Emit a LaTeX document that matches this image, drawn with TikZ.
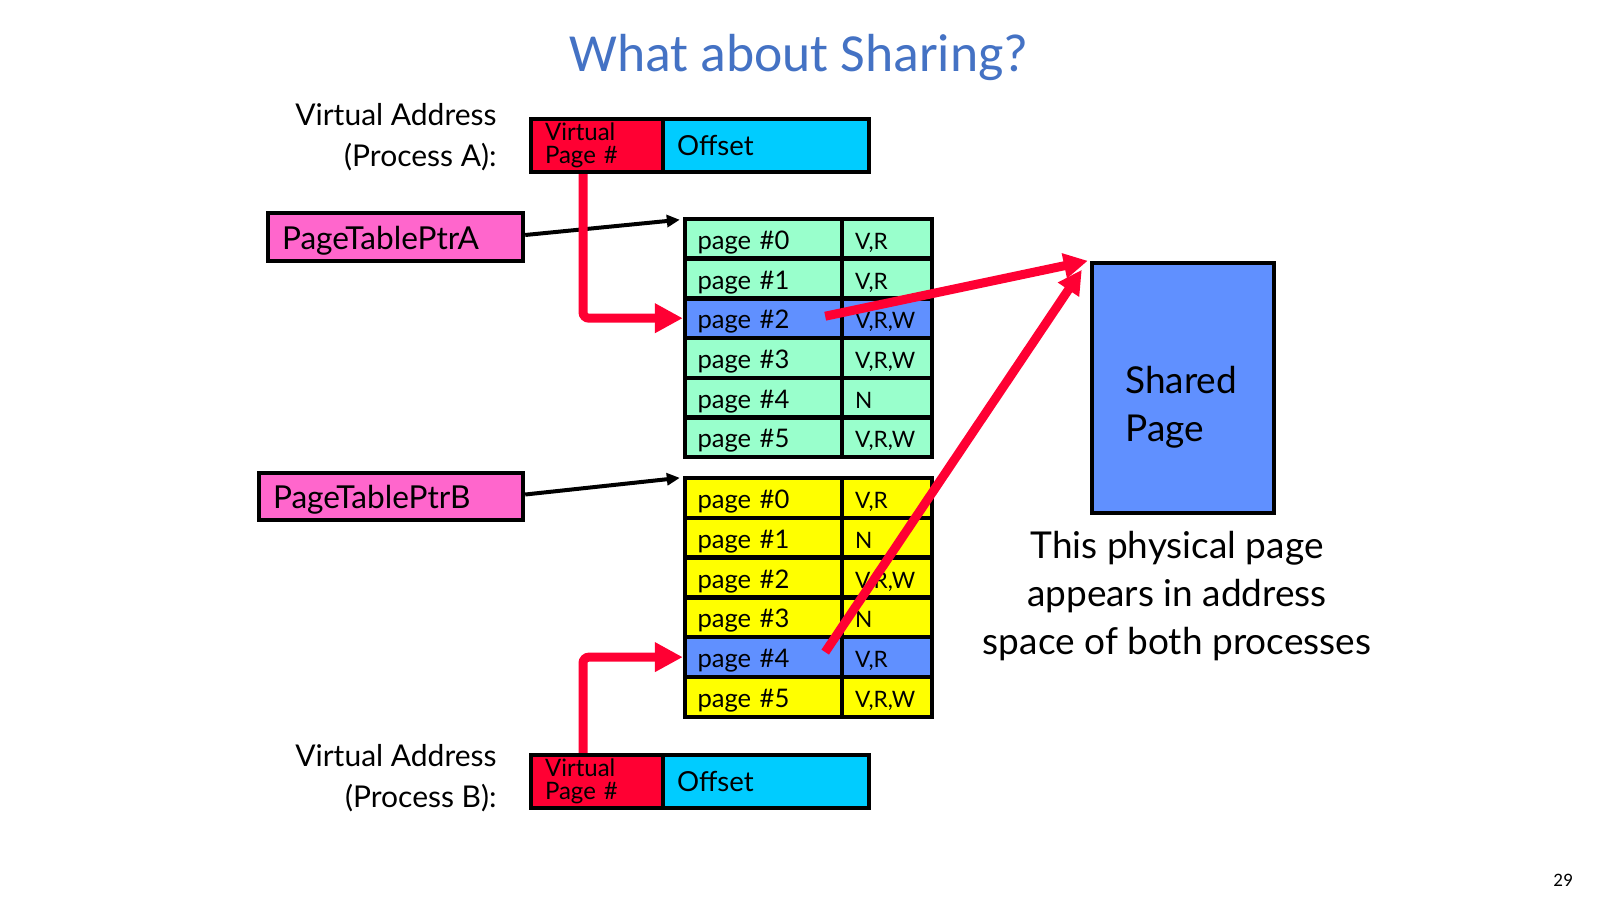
\documentclass[tikz,border=0pt]{standalone}
\usepackage{fontspec}
\setmainfont{Lato}
\newfontfamily\titlefont{Carlito}
\usetikzlibrary{arrows.meta}
\definecolor{vred}{HTML}{FF0033}
\definecolor{vcyan}{HTML}{00CCFF}
\definecolor{vpink}{HTML}{FF66CC}
\definecolor{vmint}{HTML}{99FFCC}
\definecolor{vyel}{HTML}{FFFF00}
\definecolor{vblue}{HTML}{6090FF}
\definecolor{ttl}{HTML}{4472C4}
\begin{document}
\begin{tikzpicture}[x=0.5pt,y=-0.5pt,
  box/.style={draw=black, line width=2.2pt, rectangle, inner sep=0pt},
  pcell/.style={box, minimum width=78.5pt, minimum height=19.85pt, text width=66pt, text height=10.5pt, text depth=0pt, align=left, font=\fontsize{12.8}{14}\selectfont},
  fcell/.style={box, minimum width=45pt, minimum height=19.85pt, text width=32pt, text height=10.5pt, text depth=0pt, align=left, font=\fontsize{11.3}{12}\selectfont},
  vpn/.style={box, fill=vred, minimum width=66pt, minimum height=26.5pt, text width=52pt, align=left, font=\fontsize{12}{11.3}\selectfont},
  offs/.style={box, fill=vcyan, minimum width=103pt, minimum height=26.5pt, text width=89pt, align=left, font=\fontsize{13.8}{16}\selectfont},
  ptr/.style={box, fill=vpink, minimum height=24pt, text height=12pt, text depth=0pt, align=left, font=\fontsize{15.8}{18}\selectfont},
  lbl/.style={align=right, anchor=east, font=\fontsize{15}{20.5}\selectfont, inner sep=0pt},
  redarrow/.style={draw=vred, line width=4.5pt, -{Triangle[length=14pt,width=14pt]}},
  diagarrow/.style={draw=vred, line width=4.5pt, -{Triangle[length=12pt,width=12pt]}},
  blkarrow/.style={draw=black, line width=2pt, -{Triangle[length=6.5pt,width=6pt]}}
]
\useasboundingbox (0,0) rectangle (1600,900);

% title
\node[text=ttl, font=\titlefont\fontsize{26.8}{32}\selectfont] (title) at (799,57) {What about Sharing?};

% virtual address A
\node[lbl] (lblA) at (497,137) {Virtual Address\\(Process A):};
\node[vpn] (vpnA) at (597,145.5) {Virtual\\Page \#};
\node[offs] (offA) at (766,145.5) {Offset};

% page table pointers
\node[ptr, minimum width=127.5pt, text width=113.5pt] (ptrA) at (395.5,237) {PageTablePtrA};
\node[ptr, minimum width=132pt, text width=118pt, minimum height=23.5pt] (ptrB) at (391,496.5) {PageTablePtrB};

% table A
\node[pcell, fill=vmint] (a0) at (763.5,238.8) {page \#0};
\node[fcell, fill=vmint] (af0) at (887,238.8) {V,R};
\node[pcell, fill=vmint] (a1) at (763.5,278.5) {page \#1};
\node[fcell, fill=vmint] (af1) at (887,278.5) {V,R};
\node[pcell, fill=vblue] (a2) at (763.5,318.2) {page \#2};
\node[fcell, fill=vblue] (af2) at (887,318.2) {V,R,W};
\node[pcell, fill=vmint] (a3) at (763.5,357.9) {page \#3};
\node[fcell, fill=vmint] (af3) at (887,357.9) {V,R,W};
\node[pcell, fill=vmint] (a4) at (763.5,397.6) {page \#4};
\node[fcell, fill=vmint] (af4) at (887,397.6) {N};
\node[pcell, fill=vmint] (a5) at (763.5,437.3) {page \#5};
\node[fcell, fill=vmint] (af5) at (887,437.3) {V,R,W};

% table B
\node[pcell, fill=vyel] (b0) at (763.5,497.9) {page \#0};
\node[fcell, fill=vyel] (bf0) at (887,497.9) {V,R};
\node[pcell, fill=vyel] (b1) at (763.5,537.7) {page \#1};
\node[fcell, fill=vyel] (bf1) at (887,537.7) {N};
\node[pcell, fill=vyel] (b2) at (763.5,577.5) {page \#2};
\node[fcell, fill=vyel] (bf2) at (887,577.5) {V,R,W};
\node[pcell, fill=vyel] (b3) at (763.5,617.3) {page \#3};
\node[fcell, fill=vyel] (bf3) at (887,617.3) {N};
\node[pcell, fill=vblue] (b4) at (763.5,657.1) {page \#4};
\node[fcell, fill=vblue] (bf4) at (887,657.1) {V,R};
\node[pcell, fill=vyel] (b5) at (763.5,696.9) {page \#5};
\node[fcell, fill=vyel] (bf5) at (887,696.9) {V,R,W};

% virtual address B
\node[lbl] (lblB) at (497,778) {Virtual Address\\(Process B):};
\node[vpn] (vpnB) at (597,781.5) {Virtual\\Page \#};
\node[offs] (offB) at (766,781.5) {Offset};

% shared page
\node[box, fill=vblue, minimum width=91pt, minimum height=125pt] (sp) at (1183,388) {};
\node[anchor=west, align=left, inner sep=0pt, font=\fontsize{18.5}{24}\selectfont] (sptxt) at (1125,407) {Shared\\Page};
\node[align=center, font=\fontsize{18.5}{24.2}\selectfont] (cap) at (1177,596) {This physical page\\appears in address\\space of both processes};

% page number
\node[font=\titlefont\fontsize{9.5}{11}\selectfont] (pnum) at (1563,880) {29};

% black arrows
\coordinate (tA) at ([shift={(-3,3)}]a0.north west);
\coordinate (tB) at ([shift={(-3,2)}]b0.north west);
\draw[blkarrow] ([yshift=1pt]ptrA.east) -- (tA);
\draw[blkarrow] ([yshift=1pt]ptrB.east) -- (tB);

% red index arrows
\draw[redarrow, rounded corners=3pt] ([xshift=-7pt]vpnA.south) |- (a2.west);
\draw[redarrow, rounded corners=3pt] ([xshift=-7pt]vpnB.north) |- (b4.west);

% red mapping arrows
\coordinate (sA) at ([shift={(-19,-2)}]a2.east);
\coordinate (sB) at ([shift={(-19,-5)}]b4.east);
\coordinate (eA) at ([shift={(-2,0)}]sp.north west);
\coordinate (eB) at ([shift={(-8,9)}]sp.north west);
\draw[diagarrow] (sA) -- (eA);
\draw[diagarrow] (sB) -- (eB);
\end{tikzpicture}
\end{document}
